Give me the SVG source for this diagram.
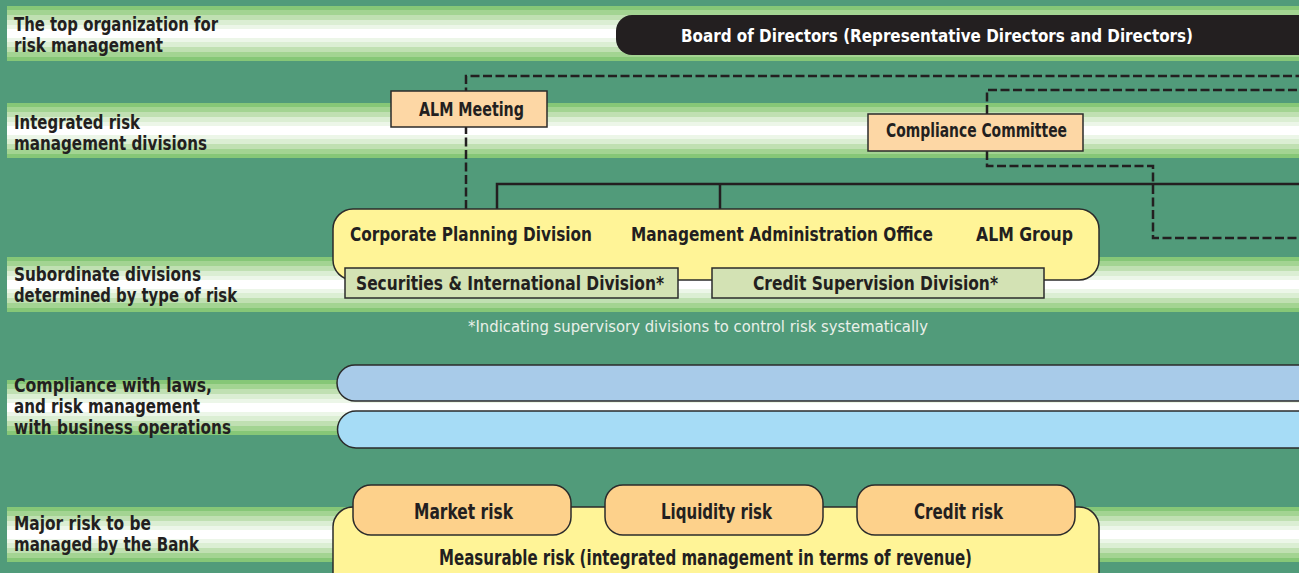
<svg xmlns="http://www.w3.org/2000/svg" width="1299" height="573" viewBox="0 0 1299 573">
  <defs>
    <linearGradient id="band" x1="0" y1="0" x2="0" y2="1">
      <stop offset="0" stop-color="#86c777"/>
      <stop offset="0.07" stop-color="#86c777"/>
      <stop offset="0.07" stop-color="#a3d492"/>
      <stop offset="0.16" stop-color="#a3d492"/>
      <stop offset="0.16" stop-color="#c0e0b2"/>
      <stop offset="0.26" stop-color="#c0e0b2"/>
      <stop offset="0.26" stop-color="#dbeed3"/>
      <stop offset="0.35" stop-color="#dbeed3"/>
      <stop offset="0.35" stop-color="#ecf6e8"/>
      <stop offset="0.41" stop-color="#ecf6e8"/>
      <stop offset="0.41" stop-color="#ffffff"/>
      <stop offset="0.59" stop-color="#ffffff"/>
      <stop offset="0.59" stop-color="#ecf6e8"/>
      <stop offset="0.65" stop-color="#ecf6e8"/>
      <stop offset="0.65" stop-color="#dbeed3"/>
      <stop offset="0.74" stop-color="#dbeed3"/>
      <stop offset="0.74" stop-color="#c0e0b2"/>
      <stop offset="0.84" stop-color="#c0e0b2"/>
      <stop offset="0.84" stop-color="#a3d492"/>
      <stop offset="0.93" stop-color="#a3d492"/>
      <stop offset="0.93" stop-color="#86c777"/>
      <stop offset="1" stop-color="#86c777"/>
    </linearGradient>
  </defs>
  <style>
    text { font-family: "DejaVu Sans Condensed", "Liberation Sans", sans-serif; font-weight: bold; fill: #231f20; }
    .lbl { font-size: 19.5px; }
    .node { font-size: 21px; text-anchor: middle; }
    .row { font-size: 20px; }
    .small { font-size: 19px; }
    .board { font-size: 18.5px; fill: #ffffff; }
    .note { font-size: 15.5px; font-weight: normal; fill: #e9f0e9; text-anchor: middle; }
    .band { fill: url(#band); }
    .box { stroke: #2b2b2b; stroke-width: 1.5; }
    .peach { fill: #fdd7a5; }
    .yellow { fill: #fff497; }
    .sub { fill: #d3e2b4; }
    .orange { fill: #fdd18b; }
    .dash { fill: none; stroke: #231f20; stroke-width: 2.5; stroke-dasharray: 9 3.5; }
    .solid { fill: none; stroke: #231f20; stroke-width: 2.5; }
  </style>

  <!-- background and level bands -->
  <rect x="0" y="0" width="1299" height="573" fill="#519b7a"/>
  <g id="bands">
    <rect class="band" x="7" y="6" width="1292" height="55"/>
    <rect class="band" x="7" y="103" width="1292" height="55"/>
    <rect class="band" x="7" y="257" width="1292" height="55"/>
    <rect class="band" x="7" y="380" width="1292" height="55"/>
    <rect class="band" x="7" y="507" width="1292" height="55"/>
  </g>

  <!-- level labels -->
  <g id="labels">
    <text class="lbl" x="14" y="31" textLength="204" lengthAdjust="spacingAndGlyphs">The top organization for</text>
    <text class="lbl" x="14" y="52" textLength="149" lengthAdjust="spacingAndGlyphs">risk management</text>
    <text class="lbl" x="14" y="129" textLength="126" lengthAdjust="spacingAndGlyphs">Integrated risk</text>
    <text class="lbl" x="14" y="150" textLength="193" lengthAdjust="spacingAndGlyphs">management divisions</text>
    <text class="lbl" x="14" y="281" textLength="187" lengthAdjust="spacingAndGlyphs">Subordinate divisions</text>
    <text class="lbl" x="14" y="302" textLength="223" lengthAdjust="spacingAndGlyphs">determined by type of risk</text>
    <text class="lbl" x="14" y="392" textLength="198" lengthAdjust="spacingAndGlyphs">Compliance with laws,</text>
    <text class="lbl" x="14" y="413" textLength="186" lengthAdjust="spacingAndGlyphs">and risk management</text>
    <text class="lbl" x="14" y="434" textLength="217" lengthAdjust="spacingAndGlyphs">with business operations</text>
    <text class="lbl" x="14" y="530" textLength="137" lengthAdjust="spacingAndGlyphs">Major risk to be</text>
    <text class="lbl" x="14" y="551" textLength="185" lengthAdjust="spacingAndGlyphs">managed by the Bank</text>
  </g>

  <!-- connectors -->
  <g id="connectors">
    <path class="dash" d="M466 209 V76 H1299"/>
    <path class="dash" d="M987 114 V90 H1299"/>
    <path class="dash" d="M987 151 V166 H1153 V238 H1299"/>
    <path class="solid" d="M497 209 V184 H1299"/>
    <path class="solid" d="M720 184 V209"/>
  </g>

  <!-- Board of Directors -->
  <g id="board">
    <path d="M632 15 H1299 V55 H632 A16 16 0 0 1 616 39 V31 A16 16 0 0 1 632 15 Z" fill="#231f20"/>
    <text class="node board" x="937" y="42" textLength="512" lengthAdjust="spacingAndGlyphs">Board of Directors (Representative Directors and Directors)</text>
  </g>

  <!-- ALM Meeting -->
  <g id="alm-meeting">
    <rect class="box peach" x="391" y="91" width="156" height="36"/>
    <text class="node small" x="471.5" y="116" textLength="105" lengthAdjust="spacingAndGlyphs">ALM Meeting</text>
  </g>

  <!-- Compliance Committee -->
  <g id="compliance-committee">
    <rect class="box peach" x="868" y="114" width="215" height="37"/>
    <text class="node small" x="976.5" y="137" textLength="181" lengthAdjust="spacingAndGlyphs">Compliance Committee</text>
  </g>

  <!-- Integrated risk management divisions -->
  <g id="divisions">
    <rect class="box yellow" x="333" y="209" width="766" height="71" rx="20" ry="20"/>
    <text class="node row" x="471" y="241" textLength="242" lengthAdjust="spacingAndGlyphs">Corporate Planning Division</text>
    <text class="node row" x="782" y="241" textLength="302" lengthAdjust="spacingAndGlyphs">Management Administration Office</text>
    <text class="node row" x="1024.5" y="241" textLength="97" lengthAdjust="spacingAndGlyphs">ALM Group</text>
  </g>

  <g id="securities-division">
    <rect class="box sub" x="345" y="268" width="333" height="30"/>
    <text class="node row" x="510" y="290" textLength="308" lengthAdjust="spacingAndGlyphs">Securities &amp; International Division*</text>
  </g>

  <g id="credit-supervision">
    <rect class="box sub" x="712" y="268" width="332" height="30"/>
    <text class="node row" x="875.5" y="290" textLength="245" lengthAdjust="spacingAndGlyphs">Credit Supervision Division*</text>
  </g>

  <text class="note" x="698" y="332" textLength="460" lengthAdjust="spacingAndGlyphs">*Indicating supervisory divisions to control risk systematically</text>

  <!-- business operations bars -->
  <g id="compliance-bar">
    <path class="box" d="M1310 365 H355 A18 18 0 0 0 355 401 H1310" fill="#a8cbe9"/>
  </g>
  <g id="operations-bar">
    <path class="box" d="M1310 411 H356 A18.5 18.5 0 0 0 356 448 H1310" fill="#a6dcf6"/>
  </g>

  <!-- measurable risk -->
  <g id="measurable-risk">
    <path class="box yellow" d="M333 590 V527 A20 20 0 0 1 353 507 H1079 A20 20 0 0 1 1099 527 V590"/>
    <text class="node" x="705.5" y="565" textLength="533" lengthAdjust="spacingAndGlyphs">Measurable risk (integrated management in terms of revenue)</text>
  </g>

  <g id="market-risk">
    <rect class="box orange" x="353" y="485" width="218" height="50" rx="18" ry="18"/>
    <text class="node" x="463.5" y="519" textLength="99" lengthAdjust="spacingAndGlyphs">Market risk</text>
  </g>
  <g id="liquidity-risk">
    <rect class="box orange" x="605" y="485" width="218" height="50" rx="18" ry="18"/>
    <text class="node" x="716.5" y="519" textLength="111" lengthAdjust="spacingAndGlyphs">Liquidity risk</text>
  </g>
  <g id="credit-risk">
    <rect class="box orange" x="857" y="485" width="218" height="50" rx="18" ry="18"/>
    <text class="node" x="958.5" y="519" textLength="89" lengthAdjust="spacingAndGlyphs">Credit risk</text>
  </g>
</svg>
